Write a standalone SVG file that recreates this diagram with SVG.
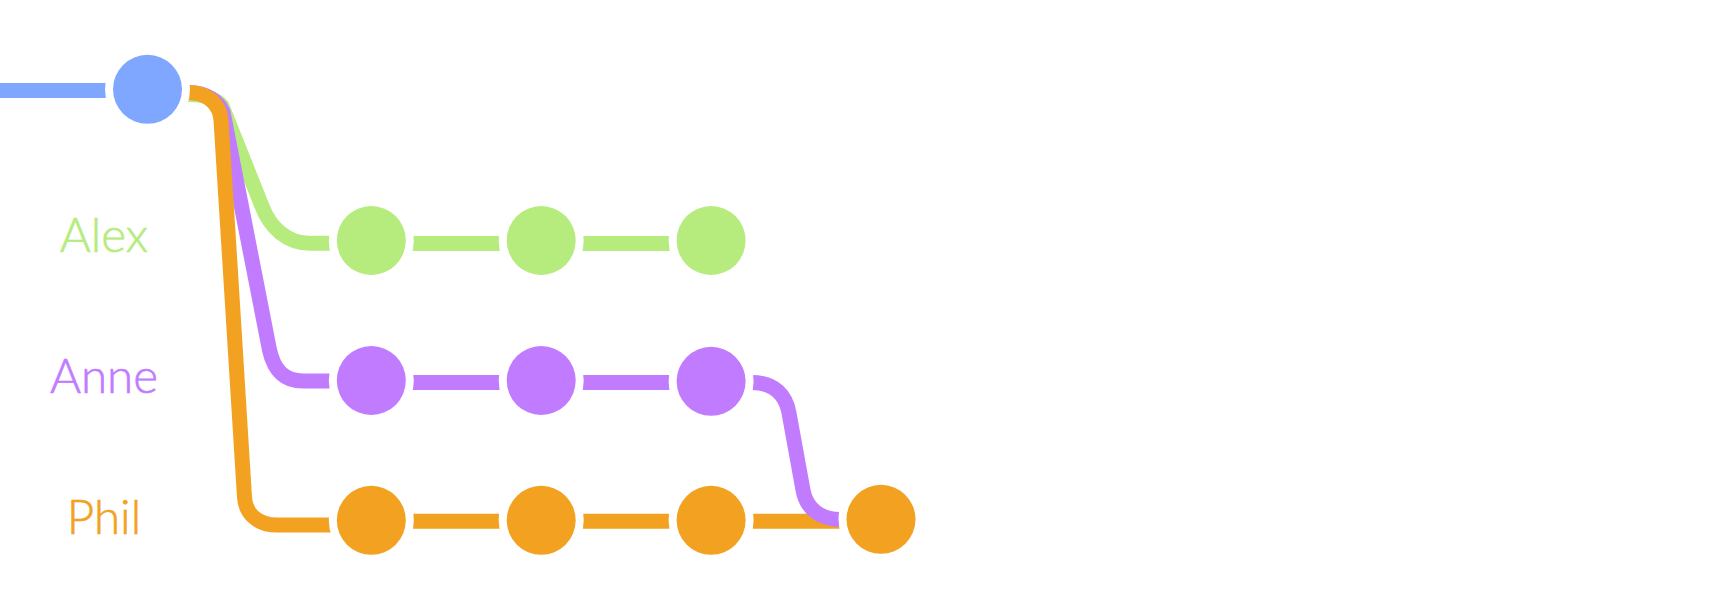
<svg xmlns="http://www.w3.org/2000/svg" width="1717" height="606" viewBox="0 0 1717 606">
<style>
.ln{fill:none;stroke-width:15;stroke-linecap:butt;stroke-linejoin:round}
.blue{stroke:#7FA7FF}
.green{stroke:#B6EB7E}
.purple{stroke:#C17BFF}
.orange{stroke:#F2A220}
.c{stroke:#FFFFFF;stroke-width:16;paint-order:stroke}
.lbl{font-family:Lato,"Liberation Sans",Arial,sans-serif;font-weight:300;font-size:47.5px;text-anchor:middle;stroke-width:0.6}
</style>
<rect width="1717" height="606" fill="#FFFFFF"/>
<g id="connectors">
  <path class="ln blue" d="M0,90.5 L147.5,90.5"/>
  <path class="ln green" d="M147.5,94.5 L189,94.5 C205,94.5 215,98 222,106 L261.5,205 C270,228 287,243.3 310,243.3 L371.3,243.3"/>
  <path class="ln purple" d="M147.5,92.5 L189,92.5 C207,92.5 219,102 223,112 L269.5,350 C274,370 284,381 303,381 L371.3,381"/>
  <path class="ln orange" d="M147.5,92.5 L189,92.5 C208,92.5 220,105 221,120 L244.5,497 C245.5,514 258,525 277,525 L371.3,525"/>
  <path class="ln green" d="M371.3,243.5 L711.1,243.5"/>
  <path class="ln purple" d="M371.3,382.5 L711.1,382.5"/>
  <path class="ln orange" d="M371.3,521.3 L881,521.3"/>
  <path class="ln purple" d="M711.1,382.5 L752,382.5 C775,382.5 786,396 789,413 L803,490 C806,508 820,519.5 840,519.5 L881,519.5"/>
</g>
<g id="node-start"><circle class="c" cx="147.5" cy="89.3" r="34.5" fill="#7FA7FF"/></g>
<g id="node-alex-1"><circle class="c" cx="371.3" cy="240.5" r="34.5" fill="#B6EB7E"/></g>
<g id="node-alex-2"><circle class="c" cx="541.2" cy="240.5" r="34.5" fill="#B6EB7E"/></g>
<g id="node-alex-3"><circle class="c" cx="711.1" cy="240.5" r="34.5" fill="#B6EB7E"/></g>
<g id="node-anne-1"><circle class="c" cx="371.3" cy="380.5" r="34.5" fill="#C17BFF"/></g>
<g id="node-anne-2"><circle class="c" cx="541.2" cy="380.5" r="34.5" fill="#C17BFF"/></g>
<g id="node-anne-3"><circle class="c" cx="711.1" cy="381.3" r="34.5" fill="#C17BFF"/></g>
<g id="node-phil-1"><circle class="c" cx="371.3" cy="520.3" r="34.5" fill="#F2A220"/></g>
<g id="node-phil-2"><circle class="c" cx="541.2" cy="520.3" r="34.5" fill="#F2A220"/></g>
<g id="node-phil-3"><circle class="c" cx="711.1" cy="520.3" r="34.5" fill="#F2A220"/></g>
<g id="node-phil-4"><circle class="c" cx="881" cy="519.3" r="34.5" fill="#F2A220"/></g>
<g id="label-alex"><text class="lbl" x="104" y="251.7" fill="#B6EB7E" stroke="#B6EB7E">Alex</text></g>
<g id="label-anne"><text class="lbl" x="104" y="393.3" fill="#C17BFF" stroke="#C17BFF">Anne</text></g>
<g id="label-phil"><text class="lbl" x="104" y="534" fill="#F2A220" stroke="#F2A220">Phil</text></g>
</svg>
